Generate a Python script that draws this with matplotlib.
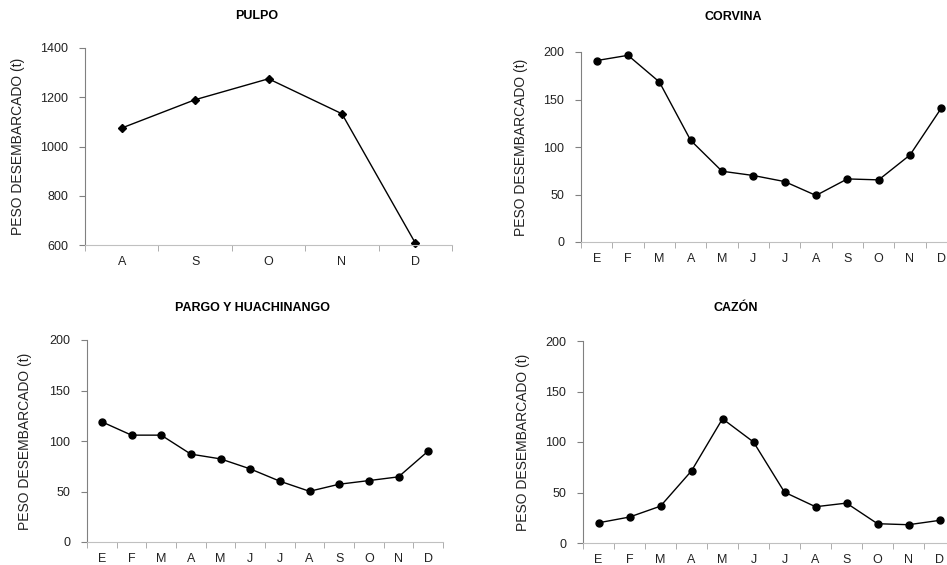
import matplotlib
matplotlib.use("Agg")
import matplotlib.pyplot as plt
import numpy as np

plt.rcParams['font.family'] = ['Liberation Sans', 'DejaVu Sans']

meses = ['E', 'F', 'M', 'A', 'M', 'J', 'J', 'A', 'S', 'O', 'N', 'D']
meses_pulpo = ['A', 'S', 'O', 'N', 'D']

pulpo = [1075, 1190, 1275, 1133, 608]
corvina = [191, 196.5, 168.5, 107, 74.5, 70, 63.6, 49, 66.4, 65.4, 91.6, 141]
pargo = [119, 105.8, 105.8, 87, 82.3, 72.4, 60.2, 50.2, 57.2, 60.8, 64.5, 90]
cazon = [20, 25.7, 36.5, 71.4, 123, 100, 50.3, 35.9, 39.5, 19.1, 18.1, 22.4]

W, H = 947, 565
fig = plt.figure(figsize=(W / 100, H / 100), dpi=100)


def panel(px_left, px_right, px_top, px_bottom, cats, vals, ylim, ystep,
          marker, ms, title, title_xy, ylab_x):
    ax = fig.add_axes([px_left / W, 1 - px_bottom / H,
                       (px_right - px_left) / W, (px_bottom - px_top) / H])
    x = np.arange(len(cats))
    ax.plot(x, vals, color='black', lw=1, marker=marker, ms=ms,
            markerfacecolor='black', markeredgecolor='black', clip_on=False)
    ax.set_xlim(-0.5, len(cats) - 0.5)
    ax.set_ylim(*ylim)
    ax.set_xticks(x)
    ax.set_xticklabels(cats)
    ax.set_xticks(np.arange(len(cats) + 1) - 0.5, minor=True)
    ax.tick_params(axis='x', which='major', length=0, pad=8, labelsize=9,
                   labelcolor='#222222')
    ax.tick_params(axis='x', which='minor', length=4, direction='out',
                   color='#a0a0a0')
    ax.set_yticks(np.arange(ylim[0], ylim[1] + 1, ystep))
    ax.tick_params(axis='y', length=4, direction='out', color='#808080',
                   labelsize=9, pad=8, labelcolor='#222222')
    for s in ['top', 'right']:
        ax.spines[s].set_visible(False)
    ax.spines['left'].set_color('#808080')
    ax.spines['bottom'].set_color('#c0c0c0')
    fig.text(title_xy[0] / W, 1 - title_xy[1] / H, title, ha='center',
             va='center', fontsize=9, fontweight='bold')
    fig.text(ylab_x / W, 1 - (px_top + px_bottom) / 2 / H,
             'PESO DESEMBARCADO (t)', rotation=90, ha='center', va='center',
             fontsize=10, color='#222222')
    return ax


panel(85, 452, 48, 245, meses_pulpo, pulpo, (600, 1400), 200,
      'D', 4, 'PULPO', (257, 16), 18)
panel(581, 957, 52, 242, meses, corvina, (0, 200), 50,
      'o', 5, 'CORVINA', (733, 17), 521)
panel(87, 443, 340, 542, meses, pargo, (0, 200), 50,
      'o', 5, 'PARGO Y HUACHINANGO', (252, 308), 25)
panel(583, 955, 341, 543, meses, cazon, (0, 200), 50,
      'o', 5, 'CAZÓN', (736, 308), 523)

fig.savefig('out.png', dpi=100)
